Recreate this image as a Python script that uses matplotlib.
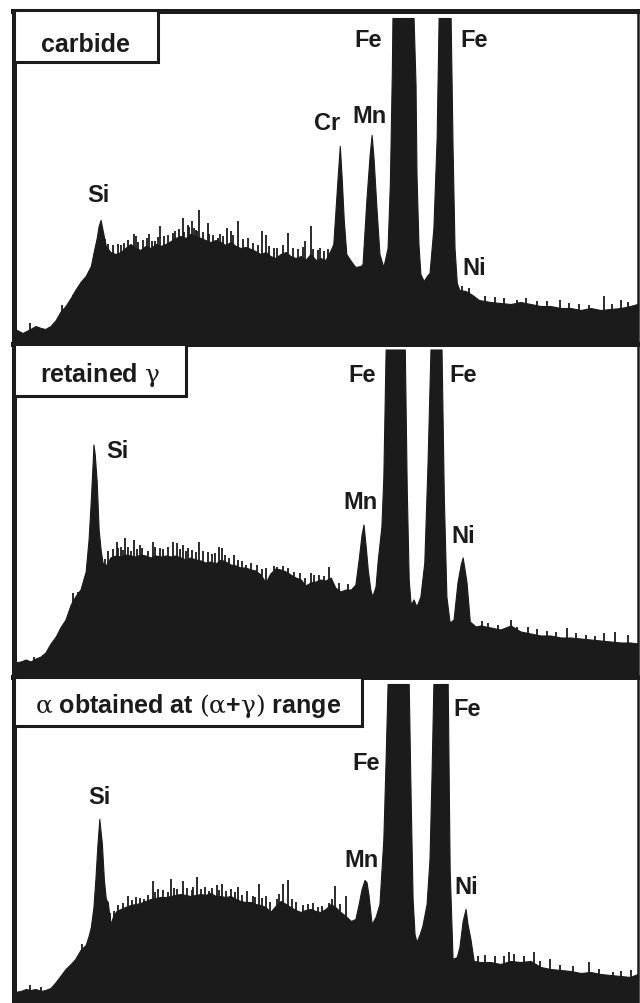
"""
    eds_spectra.py
    EDS spectra of carbide, retained gamma and alpha phases
"""

import matplotlib.pyplot as plt
from matplotlib.patches import Rectangle

plt.rcParams["font.family"] = ["Liberation Sans", "DejaVu Sans"]
plt.rcParams["mathtext.fontset"] = "custom"
plt.rcParams["mathtext.rm"] = "DejaVu Serif"
plt.rcParams["mathtext.it"] = "DejaVu Serif"

INK = "#1b1b1b"

# ---- carbide ----
carbide_kev = [
    0.40, 0.45, 0.54, 0.66, 0.74, 0.82, 0.89, 0.97, 1.05, 1.12, 1.20, 1.28,
    1.35, 1.43, 1.51, 1.59, 1.63, 1.68, 1.71, 1.74, 1.77, 1.82, 1.89, 1.97,
    2.05, 2.12, 2.20, 2.28, 2.35, 2.43, 2.51, 2.59, 2.66, 2.74, 2.82, 2.89,
    2.97, 3.05, 3.12, 3.20, 3.28, 3.35, 3.43, 3.51, 3.59, 3.66, 3.74, 3.82,
    3.89, 3.97, 4.05, 4.12, 4.20, 4.28, 4.35, 4.43, 4.51, 4.59, 4.66, 4.74,
    4.82, 4.89, 4.97, 5.05, 5.12, 5.20, 5.28, 5.32, 5.35, 5.385, 5.42, 5.45,
    5.48, 5.52, 5.59, 5.66, 5.74, 5.77, 5.83, 5.88, 5.91, 5.94, 5.985, 6.03,
    6.09, 6.155, 6.19, 6.22, 6.23, 6.555, 6.585, 6.60, 6.63, 6.66, 6.71, 6.77,
    6.80, 6.86, 6.91, 6.94, 7.125, 7.155, 7.185, 7.22, 7.26, 7.355, 7.46, 7.56,
    7.74, 7.89, 8.05, 8.20, 8.355, 8.51, 8.66, 8.82, 8.97, 9.125, 9.28, 9.43,
    9.585, 9.74, 9.89, 10.0,
]
carbide_counts = [
    140, 140, 110, 150, 180, 160, 150, 180, 240, 320, 380, 460,
    540, 620, 680, 780, 910, 1060, 1180, 1240, 1140, 980, 920, 900,
    920, 960, 1000, 960, 940, 980, 960, 1000, 980, 1000, 1030, 1060,
    1080, 1060, 1100, 1080, 1060, 1040, 1020, 1040, 1020, 990, 1020, 980,
    960, 970, 950, 930, 900, 920, 880, 860, 900, 920, 880, 860,
    880, 840, 900, 840, 860, 840, 940, 1000, 1300, 1650, 1980, 1650,
    1250, 900, 830, 770, 780, 800, 1450, 1900, 2090, 1850, 1350, 900,
    770, 960, 1600, 2700, 3260, 3260, 2600, 1700, 1000, 700, 630, 690,
    710, 1160, 2060, 3260, 3260, 1960, 960, 610, 540, 530, 490, 440,
    420, 410, 400, 420, 400, 380, 380, 360, 360, 340, 360, 340,
    350, 360, 380, 400,
]
carbide_spike_kev = [
    0.66, 1.15, 1.31, 2.05, 2.25, 2.28, 2.48, 2.57, 2.66, 2.71, 2.85, 2.89,
    3.00, 3.08, 3.14, 3.20, 3.26, 3.385, 3.54, 3.69, 3.74, 3.85, 4.00, 4.22,
    4.28, 4.46, 4.63, 4.89, 4.97, 5.08, 5.12, 8.14, 8.80, 9.25, 9.49, 9.74,
    1.80, 1.86, 1.93, 2.00, 2.10, 2.16, 2.32, 2.39, 2.45, 2.53, 2.62, 2.78,
    2.94, 3.03, 3.10, 3.17, 3.23, 3.31, 3.40, 3.47, 3.57, 3.63, 3.78, 3.93,
    4.08, 4.16, 4.33, 4.40, 4.55, 4.70, 4.78, 4.85, 5.01, 5.17, 5.24, 7.30,
    7.40, 7.65, 7.80, 7.95, 8.28, 8.45, 8.60, 8.95, 9.10, 9.60, 9.85,
]
carbide_spike_counts = [
    210, 390, 490, 990, 1100, 1080, 1100, 1030, 1180, 1080, 1110, 1130,
    1260, 1190, 1230, 1140, 1340, 1210, 1060, 1160, 1130, 1230, 1060, 1130,
    1090, 960, 1110, 1030, 1180, 940, 960, 440, 440, 390, 480, 440,
    1050, 1000, 990, 1000, 1010, 1040, 1020, 1040, 1060, 1030, 1070, 1090,
    1150, 1120, 1170, 1160, 1130, 1120, 1100, 1090, 1100, 1080, 1090, 1050,
    1010, 990, 980, 960, 990, 960, 950, 970, 950, 930, 950, 580,
    560, 480, 470, 460, 460, 430, 430, 410, 400, 400, 420,
]

# ---- retained gamma ----
gamma_kev = [
    0.40, 0.42, 0.51, 0.59, 0.66, 0.74, 0.82, 0.89, 0.97, 1.05, 1.12, 1.20,
    1.28, 1.35, 1.43, 1.51, 1.555, 1.59, 1.62, 1.63, 1.65, 1.68, 1.71, 1.74,
    1.77, 1.82, 1.89, 1.97, 2.05, 2.12, 2.20, 2.28, 2.35, 2.43, 2.51, 2.59,
    2.66, 2.74, 2.82, 2.89, 2.97, 3.05, 3.12, 3.20, 3.28, 3.35, 3.43, 3.51,
    3.59, 3.66, 3.74, 3.82, 3.89, 3.97, 4.05, 4.12, 4.20, 4.28, 4.35, 4.43,
    4.51, 4.59, 4.66, 4.74, 4.82, 4.89, 4.97, 5.05, 5.12, 5.20, 5.28, 5.35,
    5.43, 5.51, 5.59, 5.66, 5.71, 5.755, 5.785, 5.82, 5.85, 5.89, 5.92, 5.97,
    6.00, 6.06, 6.09, 6.125, 6.42, 6.45, 6.48, 6.51, 6.555, 6.60, 6.66, 6.72,
    6.77, 6.815, 6.985, 7.02, 7.06, 7.11, 7.17, 7.23, 7.28, 7.31, 7.34, 7.37,
    7.42, 7.51, 7.585, 7.74, 7.89, 8.05, 8.20, 8.355, 8.51, 8.66, 8.82, 8.97,
    9.125, 9.28, 9.43, 9.585, 9.74, 9.89, 10.0,
]
gamma_counts = [
    140, 140, 150, 170, 150, 180, 200, 240, 330, 400, 490, 570,
    720, 800, 870, 1050, 1370, 1770, 2170, 2320, 2220, 1950, 1470, 1270,
    1140, 1110, 1190, 1210, 1200, 1220, 1210, 1200, 1220, 1210, 1190, 1210,
    1200, 1210, 1200, 1210, 1190, 1170, 1190, 1170, 1160, 1140, 1150, 1130,
    1170, 1150, 1120, 1110, 1090, 1090, 1070, 1060, 1020, 940, 1030, 1080,
    1070, 1050, 1020, 990, 970, 910, 940, 950, 970, 960, 990, 890,
    850, 870, 870, 920, 1170, 1420, 1520, 1290, 1070, 870, 800, 900,
    1140, 1500, 2000, 3270, 3270, 1870, 970, 720, 770, 700, 800, 1140,
    2140, 3270, 3270, 1800, 800, 540, 570, 940, 1120, 1190, 1070, 940,
    550, 500, 510, 490, 470, 510, 450, 430, 410, 410, 390, 390,
    380, 370, 360, 350, 340, 340, 330,
]
gamma_spike_kev = [
    0.71, 0.85, 1.32, 1.39, 1.985, 2.05, 2.12, 2.25, 2.34, 2.54, 2.66, 2.86,
    2.92, 3.00, 3.09, 3.26, 3.385, 3.56, 3.61, 3.785, 3.97, 4.28, 4.46, 4.71,
    4.97, 5.03, 5.25, 8.05, 8.31, 8.92, 9.49, 9.65, 9.85,
    1.80, 1.86, 1.93, 2.01, 2.09, 2.16, 2.20, 2.30, 2.38, 2.47, 2.58, 2.70,
    2.78, 2.96, 3.05, 3.14, 3.20, 3.31, 3.45, 3.50, 3.66, 3.72, 3.85, 3.92,
    4.05, 4.15, 4.22, 4.40, 4.55, 4.62, 4.80, 4.88, 5.10, 5.17, 5.40, 5.55,
    7.60, 7.70, 7.85, 8.15, 8.45, 8.60, 8.75, 9.05, 9.20, 9.35,
]
gamma_spike_counts = [
    200, 220, 840, 850, 1350, 1300, 1390, 1370, 1320, 1350, 1290, 1350,
    1340, 1320, 1290, 1350, 1250, 1300, 1290, 1220, 1120, 1090, 1100, 1050,
    1040, 1020, 1100, 570, 500, 490, 440, 450, 420,
    1180, 1260, 1280, 1290, 1270, 1300, 1260, 1280, 1290, 1260, 1300, 1280,
    1300, 1280, 1260, 1270, 1250, 1260, 1230, 1240, 1220, 1190, 1170, 1160,
    1140, 1120, 1080, 1110, 1110, 1090, 1040, 990, 1020, 1010, 940, 930,
    560, 540, 520, 500, 480, 460, 450, 440, 420, 410,
]

# ---- alpha obtained at (alpha+gamma) range ----
alpha_kev = [
    0.40, 0.42, 0.51, 0.59, 0.66, 0.74, 0.82, 0.89, 0.97, 1.05, 1.12, 1.20,
    1.28, 1.35, 1.43, 1.51, 1.555, 1.59, 1.63, 1.66, 1.69, 1.72, 1.76, 1.79,
    1.82, 1.85, 1.89, 1.94, 1.985, 2.05, 2.12, 2.20, 2.28, 2.35, 2.43, 2.51,
    2.59, 2.66, 2.74, 2.82, 2.89, 2.97, 3.05, 3.12, 3.20, 3.28, 3.35, 3.43,
    3.51, 3.59, 3.66, 3.74, 3.82, 3.89, 3.97, 4.05, 4.12, 4.20, 4.28, 4.35,
    4.43, 4.51, 4.59, 4.66, 4.74, 4.82, 4.89, 4.97, 5.05, 5.12, 5.20, 5.28,
    5.35, 5.43, 5.51, 5.59, 5.66, 5.71, 5.755, 5.80, 5.83, 5.86, 5.91, 5.97,
    6.03, 6.09, 6.125, 6.155, 6.48, 6.51, 6.54, 6.57, 6.60, 6.65, 6.69, 6.755,
    6.80, 6.83, 6.86, 7.08, 7.11, 7.155, 7.22, 7.26, 7.31, 7.355, 7.385, 7.43,
    7.48, 7.585, 7.74, 7.89, 8.05, 8.20, 8.355, 8.51, 8.66, 8.82, 8.97, 9.125,
    9.28, 9.43, 9.585, 9.74, 9.89, 10.0,
]
alpha_counts = [
    110, 110, 120, 140, 130, 140, 120, 130, 150, 210, 270, 340,
    390, 440, 530, 580, 670, 760, 960, 1240, 1570, 1840, 1590, 1240,
    1040, 1010, 790, 880, 920, 940, 960, 980, 990, 1000, 1020, 1040,
    1050, 1060, 1060, 1070, 1080, 1090, 1080, 1070, 1080, 1090, 1080, 1100,
    1070, 1070, 1060, 1070, 1040, 1020, 1010, 1010, 990, 980, 960, 910,
    970, 1020, 990, 960, 930, 910, 930, 940, 920, 910, 940, 990,
    960, 910, 870, 820, 840, 990, 1140, 1230, 1210, 1090, 790, 860,
    990, 1640, 2440, 3190, 3190, 2040, 1040, 690, 610, 690, 770, 990,
    1440, 2240, 3190, 3190, 1340, 440, 460, 560, 820, 940, 790, 640,
    420, 410, 410, 390, 420, 410, 420, 360, 340, 330, 320, 300,
    310, 290, 280, 270, 260, 290,
]
alpha_spike_kev = [
    0.65, 0.82, 1.46, 1.60, 1.94, 2.155, 2.29, 2.40, 2.54, 2.62, 2.82, 2.92,
    3.00, 3.155, 3.23, 3.40, 3.525, 3.60, 3.74, 3.85, 3.985, 4.17, 4.28, 4.34,
    4.54, 4.63, 4.74, 5.08, 5.25, 5.35, 5.51, 8.02, 8.40, 8.65, 9.25, 9.62,
    1.88, 2.00, 2.08, 2.22, 2.35, 2.47, 2.58, 2.70, 2.77, 2.87, 3.07, 3.15,
    3.29, 3.34, 3.46, 3.56, 3.67, 3.80, 3.92, 4.08, 4.12, 4.23, 4.45, 4.49,
    4.68, 4.85, 4.93, 5.00, 5.15, 5.30, 5.42, 7.55, 7.65, 7.80, 7.95, 8.10,
    8.25, 8.50, 8.80, 9.00, 9.40, 9.75, 9.90,
]
alpha_spike_counts = [
    180, 160, 590, 770, 920, 1070, 1060, 1040, 1220, 1140, 1240, 1140,
    1220, 1160, 1260, 1120, 1180, 1190, 1140, 1160, 1120, 1190, 1070, 1010,
    1190, 1230, 1010, 960, 1000, 1170, 1070, 510, 510, 440, 410, 310,
    900, 980, 1000, 1030, 1050, 1080, 1110, 1130, 1110, 1150, 1150, 1130,
    1140, 1160, 1150, 1130, 1120, 1110, 1080, 1070, 1060, 1050, 1040, 1090,
    1040, 980, 990, 1000, 970, 1040, 990, 470, 480, 470, 470, 490,
    470, 420, 380, 370, 340, 320, 330,
]

# peak labels: (text, keV, counts)
carbide_peaks = [("Fe", 5.86, 3040), ("Fe", 7.48, 3040), ("Cr", 5.22, 2210),
                 ("Mn", 5.88, 2280), ("Si", 1.71, 1490), ("Ni", 7.48, 760)]
gamma_peaks = [("Fe", 5.76, 3020), ("Fe", 7.32, 3020), ("Si", 2.00, 2260),
               ("Mn", 5.74, 1750), ("Ni", 7.32, 1410)]
alpha_peaks = [("Fe", 7.38, 2950), ("Fe", 5.83, 2410), ("Si", 1.72, 2060),
               ("Mn", 5.76, 1430), ("Ni", 7.37, 1160)]

FIG_W, FIG_H = 640, 1004


def add_panel(fig, top_px, bottom_px):
    left, right = 13.5, 637.5
    return fig.add_axes(
        [left / FIG_W, 1 - bottom_px / FIG_H, (right - left) / FIG_W,
         (bottom_px - top_px) / FIG_H]
    )


def plot_spectrum(ax, kev, counts, spike_kev, spike_counts, ymax, peaks,
                  title, box):
    ax.fill_between(kev, counts, 0, color=INK, linewidth=0.8, edgecolor=INK)
    ax.vlines(spike_kev, 0, spike_counts, colors=INK, linewidth=1.3)

    for name, x, y in peaks:
        ax.text(x, y, name, ha="center", va="center", fontsize=17,
                fontweight="bold", color=INK)

    box_w, box_h, base = box
    ax.add_patch(Rectangle((0, 1 - box_h), box_w, box_h, transform=ax.transAxes,
                           facecolor="white", edgecolor=INK, linewidth=2.2,
                           zorder=5, clip_on=False))
    ax.text(box_w / 2, base, title, transform=ax.transAxes, ha="center",
            va="baseline", fontsize=18, fontweight="bold", color=INK, zorder=6)

    ax.set_xlim(0.40, 10.0)
    ax.set_ylim(0, ymax)
    ax.set_xticks([])
    ax.set_yticks([])
    ax.spines["top"].set_linewidth(3.6)
    ax.spines["left"].set_linewidth(3.6)
    ax.spines["right"].set_linewidth(1.8)
    ax.spines["bottom"].set_visible(False)
    for s in ax.spines.values():
        s.set_color(INK)


def plot_three_panel_spectra():
    fig = plt.figure(figsize=(FIG_W / 100, FIG_H / 100), dpi=100)
    fig.patch.set_facecolor("white")

    ax1 = add_panel(fig, 11.5, 345)
    ax2 = add_panel(fig, 345, 677.5)
    ax3 = add_panel(fig, 677.5, 1004)

    plot_spectrum(ax1, carbide_kev, carbide_counts, carbide_spike_kev,
                  carbide_spike_counts, 3335, carbide_peaks, "carbide",
                  (0.232, 0.153, 0.880))
    plot_spectrum(ax2, gamma_kev, gamma_counts, gamma_spike_kev,
                  gamma_spike_counts, 3325, gamma_peaks,
                  r"retained $\gamma$", (0.277, 0.157, 0.888))
    plot_spectrum(ax3, alpha_kev, alpha_counts, alpha_spike_kev,
                  alpha_spike_counts, 3265, alpha_peaks,
                  r"$\alpha$ obtained at $(\alpha$+$\gamma)$ range",
                  (0.559, 0.153, 0.890))

    plt.savefig("out.png", dpi=100, facecolor="white")


if __name__ == "__main__":
    plot_three_panel_spectra()
